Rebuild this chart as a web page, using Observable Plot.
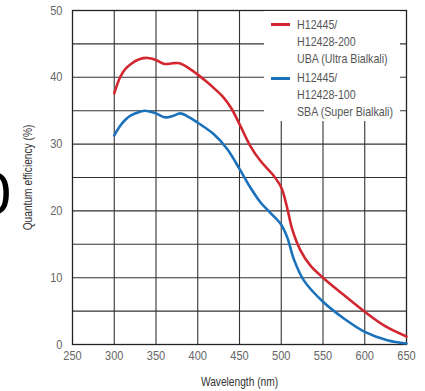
<!DOCTYPE html>
<html>
<head>
<meta charset="utf-8">
<script src="https://cdn.jsdelivr.net/npm/d3@7"></script>
<script src="https://cdn.jsdelivr.net/npm/@observablehq/plot@0.6"></script>
<style>
  html, body { margin: 0; padding: 0; background: #fff; }
  #wrap { position: relative; width: 425px; height: 391px; overflow: hidden; }
  #legend { position: absolute; left: 264px; top: 11px; width: 136px; height: 110px; background: #fff;
    font-family: "Liberation Sans", Arial, sans-serif; font-size: 13px; color: #555; }
  .ln { position: absolute; left: 33px; height: 16px; line-height: 16px; margin-top: -8px; white-space: nowrap;
    transform: scaleX(0.82); transform-origin: 0 50%; }
  .swatch { position: absolute; left: 7px; width: 19px; height: 3px; margin-top: -1.5px; }
  #glyph { position: absolute; left: -23px; top: 162px; font-family: "DejaVu Sans", sans-serif; font-size: 56px;
    line-height: 64px; color: #000; }
</style>
</head>
<body>
<div id="wrap"></div>
<script>
// UBA (Ultra Bialkali) — red
const ubaWavelength = [300, 307, 313, 320, 330, 340, 350, 360, 370, 378, 390, 400, 410, 420, 430, 440, 450, 463, 475, 490, 500, 507, 513, 523, 535, 550, 575, 600, 625, 650];
const ubaQE         = [37.6, 40.0, 41.2, 42.0, 42.7, 42.9, 42.6, 42.0, 42.1, 42.1, 41.3, 40.4, 39.4, 38.3, 37.1, 35.4, 33.0, 29.7, 27.5, 25.4, 23.5, 20.5, 17.3, 14.1, 11.8, 10.0, 7.4, 4.9, 2.7, 1.2];
// SBA (Super Bialkali) — blue
const sbaWavelength = [300, 307, 313, 320, 330, 337, 350, 361, 370, 379, 390, 400, 419, 435, 450, 463, 475, 487, 499, 507, 515, 527, 550, 575, 600, 627, 650];
const sbaQE         = [31.3, 32.7, 33.6, 34.3, 34.8, 35.0, 34.6, 34.0, 34.2, 34.6, 34.0, 33.2, 31.5, 29.3, 26.3, 23.5, 21.3, 19.7, 18.1, 16.1, 12.8, 9.6, 6.4, 3.9, 1.9, 0.65, 0.15];

const xTicks = [250, 300, 350, 400, 450, 500, 550, 600, 650];
const yTicks = [0, 10, 20, 30, 40, 50];
const yGrid  = [5, 10, 15, 20, 25, 30, 35, 40, 45];
const xGrid  = [300, 350, 400, 450, 500, 550, 600];

const seriesLabels = [["H12445/", "H12428-200", "UBA (Ultra Bialkali)"], ["H12445/", "H12428-100", "SBA (Super Bialkali)"]];
const seriesColors = ["#d22630", "#1b72bb"];

const uba = ubaWavelength.map((w, i) => ({w, q: ubaQE[i]}));
const sba = sbaWavelength.map((w, i) => ({w, q: sbaQE[i]}));

const font = "'Liberation Sans', Arial, sans-serif";

const chart = Plot.plot({
  width: 425,
  height: 391,
  marginLeft: 72,
  marginRight: 19,
  marginTop: 10,
  marginBottom: 47,
  style: {fontFamily: font, fontSize: "13px", background: "#fff", overflow: "visible"},
  x: {domain: [250, 650]},
  y: {domain: [0, 50]},
  marks: [
    Plot.gridX(xGrid, {stroke: "#333", strokeOpacity: 1, strokeWidth: 1.1}),
    Plot.gridY(yGrid, {stroke: "#333", strokeOpacity: 1, strokeWidth: 1.1}),
    Plot.frame({stroke: "#222", strokeWidth: 1.3}),
    Plot.axisX(xTicks, {tickSize: 0, tickPadding: 6, fill: "#666", fontSize: 13,
      label: "Wavelength (nm)", labelAnchor: "center", labelOffset: 41, labelArrow: "none"}),
    Plot.axisY(yTicks, {tickSize: 0, tickPadding: 10, fill: "#666", fontSize: 13,
      label: "Quantum efficiency (%)", labelAnchor: "center", labelOffset: 49, labelArrow: "none"}),
    Plot.line(uba, {x: "w", y: "q", stroke: seriesColors[0], strokeWidth: 2.6, curve: "catmull-rom"}),
    Plot.line(sba, {x: "w", y: "q", stroke: seriesColors[1], strokeWidth: 2.6, curve: "catmull-rom"})
  ]
});

const wrap = document.getElementById("wrap");
wrap.appendChild(chart);

// condense axis texts horizontally (reference uses a condensed face), in each text's own space
function condense(sel, k, anchor) {
  d3.select(chart).selectAll(sel).each(function() {
    const b = this.getBBox();
    const ax = anchor === "end" ? b.x + b.width : b.x + b.width / 2;
    const prev = this.getAttribute("transform") || "";
    this.setAttribute("transform", `${prev} translate(${ax},0) scale(${k},1) translate(${-ax},0)`);
  });
}
d3.select(chart).selectAll("[aria-label='x-axis label'] text, [aria-label='y-axis label'] text")
  .attr("fill", "#333").style("font-size", "12px");
condense("[aria-label='x-axis tick label'] text", 0.85, "middle");
condense("[aria-label='y-axis tick label'] text", 0.85, "end");
condense("[aria-label='x-axis label'] text", 0.85, "middle");
condense("[aria-label='y-axis label'] text", 0.85, "middle");

// cropped large glyph at the left edge of the reference
const glyph = document.createElement("div");
glyph.id = "glyph";
glyph.textContent = "0";
wrap.appendChild(glyph);

// legend overlay (white box covering the grid)
const legend = document.createElement("div");
legend.id = "legend";
seriesLabels.forEach((lines, i) => {
  const top = i === 0 ? 13.5 : 67;
  const sw = document.createElement("div");
  sw.className = "swatch";
  sw.style.top = top + "px";
  sw.style.background = seriesColors[i];
  legend.appendChild(sw);
  lines.forEach((txt, j) => {
    const t = document.createElement("div");
    t.className = "ln";
    t.style.top = (top + j * 17.2) + "px";
    t.textContent = txt;
    legend.appendChild(t);
  });
});
wrap.appendChild(legend);
</script>
</body>
</html>
